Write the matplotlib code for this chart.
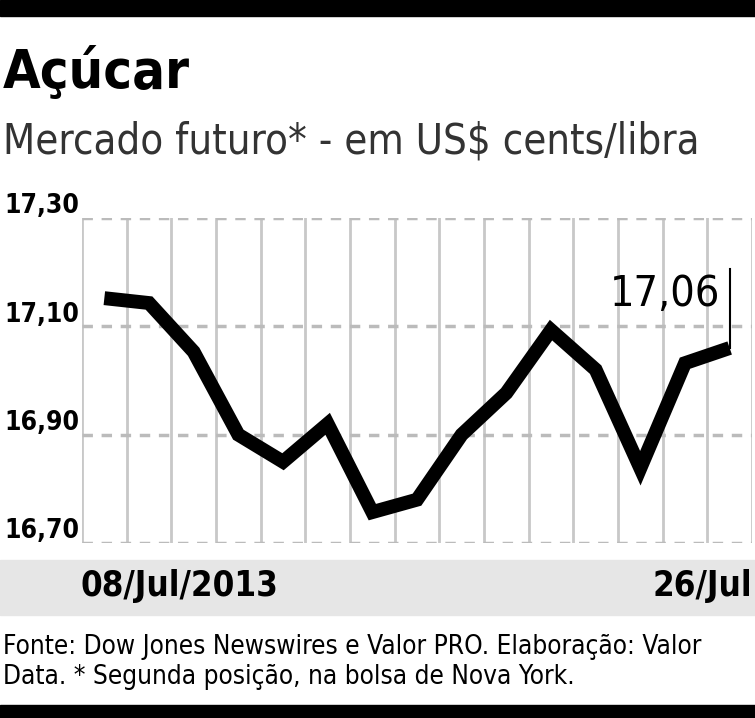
import matplotlib
matplotlib.use("Agg")
import matplotlib.pyplot as plt
from matplotlib.patches import Rectangle

values = [17.152, 17.143, 17.053, 16.90, 16.85, 16.92, 16.757, 16.78, 16.90, 16.977, 17.093, 17.02, 16.838, 17.032, 17.06]
yticks = [16.70, 16.90, 17.10, 17.30]
ytick_labels = ["16,70", "16,90", "17,10", "17,30"]
last_label = "17,06"

plt.rcParams['font.family'] = ['DejaVu Sans']
plt.rcParams['font.stretch'] = 'condensed'
W, H = 755, 718
fig = plt.figure(figsize=(W/100, H/100), dpi=100)

def fy(py): return 1 - py/H

fig.patches.append(Rectangle((0, fy(16)), 1, 16/H, transform=fig.transFigure, color='black'))
fig.patches.append(Rectangle((0, fy(615)), 1, 55/H, transform=fig.transFigure, color='#e6e6e6'))
fig.patches.append(Rectangle((0, fy(718)), 1, 13/H, transform=fig.transFigure, color='black'))

fig.text(3/W, fy(72), "Açúcar", fontsize=39, fontweight='bold', va='center', ha='left')
fig.text(3/W, fy(142), "Mercado futuro* - em US$ cents/libra", fontsize=30, va='center', ha='left', color='#333333')
fig.text(80/W, fy(586), "08/Jul/2013", fontsize=25, fontweight='bold', va='center', ha='left')
fig.text(752/W, fy(586), "26/Jul", fontsize=25, fontweight='bold', va='center', ha='right')
fig.text(3/W, fy(662), "Fonte: Dow Jones Newswires e Valor PRO. Elaboração: Valor\nData. * Segunda posição, na bolsa de Nova York.",
         fontsize=18.8, va='center', ha='left', linespacing=1.2)

ax = fig.add_axes([82/W, fy(543), (752-82)/W, (543-218)/H])
x = list(range(len(values)))
ax.set_xlim(-0.5, len(values)-0.5)
ax.set_ylim(yticks[0], yticks[-1])
for xe in [i-0.5 for i in range(len(values)+1)]:
    ax.axvline(xe, color='#c8c8c8', lw=2, zorder=1)
for yv in yticks:
    ax.axhline(yv, color='#bbbbbb', lw=2.5, ls=(0, (3, 2.5)), zorder=1)
ax.plot(x, values, color='black', lw=10, solid_joinstyle='miter', solid_capstyle='butt', zorder=3)
ax.plot([x[-1], x[-1]], [values[-1], 17.205], color='black', lw=1.5, zorder=3)
ax.text(x[-1]-0.22, 17.16, last_label, fontsize=31, ha='right', va='center', zorder=4)
for s in ax.spines.values():
    s.set_visible(False)
ax.set_xticks([])
ax.set_yticks([])
for yv, lab in zip(yticks, ytick_labels):
    ax.annotate(lab, xy=(0, yv), xycoords=('figure fraction', 'data'), xytext=(3, -1),
                textcoords='offset points', fontsize=19, fontweight='semibold', ha='left', va='bottom',
                annotation_clip=False)

fig.savefig("out.png", dpi=100)
